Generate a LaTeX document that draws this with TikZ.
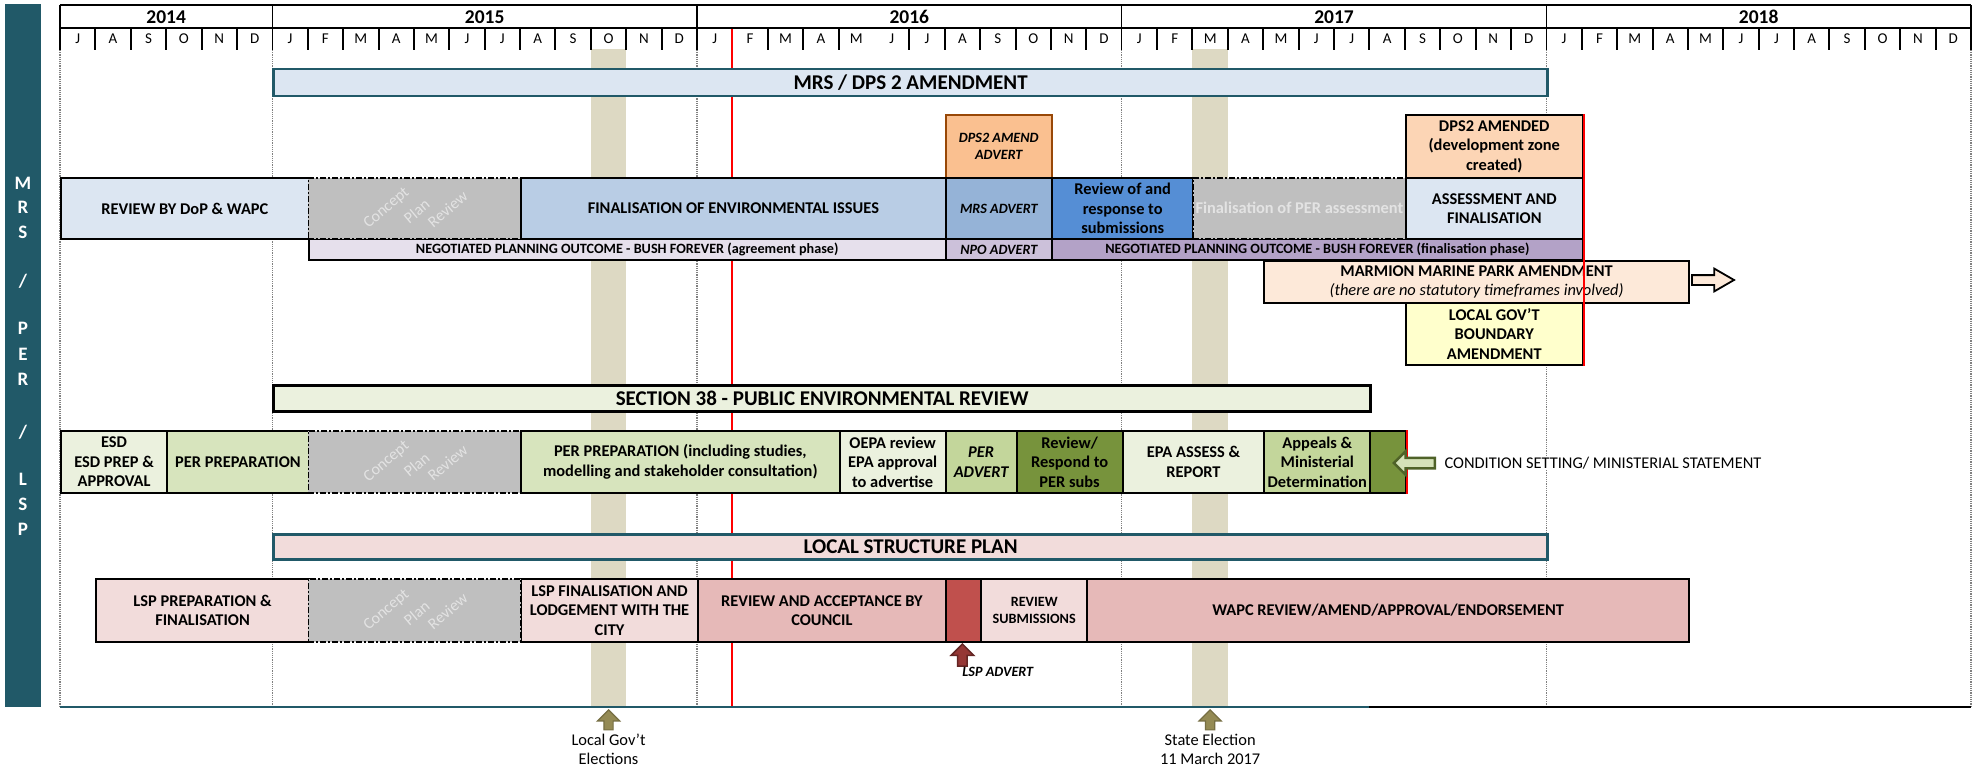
\documentclass[tikz,border=0pt]{standalone}
\usepackage{fontspec}
\setmainfont{Carlito}
\usetikzlibrary{positioning, shapes.arrows}

\definecolor{mrsteal}{HTML}{215968}
\definecolor{paleblue}{HTML}{DCE6F2}
\definecolor{midblue}{HTML}{B9CDE5}
\definecolor{advblue}{HTML}{95B3D7}
\definecolor{subblue}{HTML}{558ED5}
\definecolor{cpgray}{HTML}{BFBFBF}
\definecolor{faint}{HTML}{E3E3E3}
\definecolor{advorange}{HTML}{FAC090}
\definecolor{advbrown}{HTML}{984807}
\definecolor{amdpeach}{HTML}{FCD5B5}
\definecolor{npolav}{HTML}{E6E0EC}
\definecolor{npoadvlav}{HTML}{CCC1DA}
\definecolor{npofinlav}{HTML}{B3A2C7}
\definecolor{marmpeach}{HTML}{FDE9D9}
\definecolor{lgyellow}{HTML}{FFFFCC}
\definecolor{pergreen}{HTML}{EBF1DE}
\definecolor{prepgreen}{HTML}{D7E4BD}
\definecolor{advgreen}{HTML}{C3D69B}
\definecolor{darkgreen}{HTML}{77933C}
\definecolor{olivegreen}{HTML}{4F6228}
\definecolor{lsppink}{HTML}{F2DCDB}
\definecolor{lsprose}{HTML}{E6B9B8}
\definecolor{lspred}{HTML}{C0504D}
\definecolor{lspmaroon}{HTML}{953735}
\definecolor{lspdark}{HTML}{632523}
\definecolor{elecbeige}{HTML}{DDD9C3}
\definecolor{eleckhaki}{HTML}{948A54}

\tikzset{span/.style n args={4}{at={(#1,#3)}, anchor=north west, minimum width={(#2-#1)*35.389pt}, minimum height={(#4-#3)*1pt}},
    task/.style={draw=black, line width=2pt, inner sep=0pt, align=center, font=\bfseries\fontsize{16.4}{19.5}\selectfont},
    advert/.style={task, font=\bfseries\itshape\fontsize{14.2}{17}\selectfont},
    npo/.style={task, font=\bfseries\fontsize{14.2}{17}\selectfont},
    phase/.style={line width=2.5pt, inner sep=0pt, font=\bfseries\fontsize{21}{25}\selectfont},
    concept/.style={fill=cpgray, draw=black, line width=1.5pt, dash pattern=on 6pt off 2pt on 2pt off 2pt, inner sep=0pt},
    concept word/.style={text=faint, rotate=40, font=\fontsize{16}{19}\selectfont},
    grid line/.style={draw=gray, densely dotted, line width=1.2pt},
    year line/.style={line width=1.5pt},
    tick/.style={line width=2pt},
    year/.style={font=\bfseries\fontsize{19.5}{23}\selectfont},
    month/.style={font=\fontsize{15}{18}\selectfont},
    side/.style={text=white, font=\bfseries\fontsize{19}{22}\selectfont},
    note/.style={align=center, font=\fontsize{16.4}{19}\selectfont},
    blockarrow/.style={single arrow, inner sep=4pt, single arrow head extend=6.5pt},
}

\begin{document}
\begin{tikzpicture}[x=35.389pt, y=-1pt]
    \useasboundingbox (-1.6954,0) rectangle (54.0274,767);
    \fill[white] (-1.6954,0) rectangle (54.0274,767);

    \fill[elecbeige] (15,49) rectangle (16,707);
    \fill[elecbeige] (32,49) rectangle (33,707);
    \foreach \t in {0,6,18,30,42,54}
        \draw[grid line] (\t,50) -- (\t,707);
    \draw[red, line width=2pt] (19,29) -- (19,707);

    \draw[line width=1.5pt] (0,5) -- (54,5) (0,28) -- (54,28);
    \foreach \t in {0,6,18,30,42,54}
        \draw[year line] (\t,5) -- (\t,50);
    \foreach \t in {1,2,3,4,5,7,8,9,10,11,12,13,14,15,16,17,20,21,22,24,25,26,27,28,29,31,32,33,34,35,36,37,38,39,40,41,43,44,45,46,47,48,49,50,51,52,53}
        \draw[tick] (\t,29) -- (\t,50);
    \node[year] (y2014) at (3,17) {2014};
    \node[year] (y2015) at (12,17) {2015};
    \node[year] (y2016) at (24,17) {2016};
    \node[year] (y2017) at (36,17) {2017};
    \node[year] (y2018) at (48,17) {2018};
    \foreach \m [count=\i from 0] in {J,A,S,O,N,D,J,F,M,A,M,J,J,A,S,O,N,D,J,F,M,A,M,J,J,A,S,O,N,D,J,F,M,A,M,J,J,A,S,O,N,D,J,F,M,A,M,J,J,A,S,O,N,D}
        \node[month] (m\i) at (\i+0.5,39) {\m};

    \node[phase, draw=mrsteal, fill=paleblue, span={6}{42}{68}{95}] (mrs) {MRS / DPS 2 AMENDMENT};

    \node[advert, draw=advbrown, fill=advorange, span={25}{28}{114}{177}] (dpsadv) {DPS2 AMEND\\ADVERT};
    \node[task, fill=amdpeach, span={38}{43}{114}{177}] (dpsamd) {DPS2 AMENDED\\(development zone\\created)};

    \node[npo, fill=npolav, span={7}{25}{238}{259}] (npoagr) {NEGOTIATED PLANNING OUTCOME - BUSH FOREVER (agreement phase)};
    \node[advert, fill=npoadvlav, span={25}{28}{238}{259}] (npoadv) {NPO ADVERT};
    \node[npo, fill=npofinlav, span={28}{43}{238}{259}] (npofin) {NEGOTIATED PLANNING OUTCOME - BUSH FOREVER (finalisation phase)};

    \node[task, fill=paleblue, span={0}{7}{177}{238}] (dop) {REVIEW BY DoP \& WAPC};
    \node[concept, span={7}{13}{177}{238}] (cpr1) {};
    \node[task, fill=midblue, span={13}{25}{177}{238}] (finenv) {FINALISATION OF ENVIRONMENTAL ISSUES};
    \node[advert, fill=advblue, span={25}{28}{177}{238}] (mrsadv) {MRS ADVERT};
    \node[task, fill=subblue, span={28}{32}{177}{238}] (subs) {Review of and\\response to\\submissions};
    \node[concept, text=faint, align=center, font=\bfseries\fontsize{16.4}{19.5}\selectfont, span={32}{38}{177}{238}] (finper) {Finalisation of PER assessment};
    \node[task, fill=paleblue, span={38}{43}{177}{238}] (assess) {ASSESSMENT AND\\FINALISATION};

    \node[task, fill=marmpeach, span={34}{46}{260}{302}] (marmion) {MARMION MARINE PARK AMENDMENT\\\mdseries\itshape (there are no statutory timeframes involved)};
    \node[task, fill=lgyellow, span={38}{43}{302}{364}] (lgb) {LOCAL GOV'T\\BOUNDARY\\AMENDMENT};
    \draw[red, line width=2pt] (dpsamd.north east) -- (lgb.south east);
    \node[blockarrow, draw=black, fill=marmpeach, line width=1.8pt, minimum height=42pt, single arrow tip angle=60, anchor=tail] (marmarrow) at (46.09,280) {};

    \node[phase, draw=black, fill=pergreen, span={6}{37}{384}{410}] (sect38) {SECTION 38 - PUBLIC ENVIRONMENTAL REVIEW};

    \node[task, fill=pergreen, span={0}{3}{430}{492}] (esd) {ESD\\ESD PREP \&\\APPROVAL};
    \node[task, fill=prepgreen, span={3}{7}{430}{492}] (perprep) {PER PREPARATION};
    \node[concept, span={7}{13}{430}{492}] (cpr2) {};
    \node[task, fill=prepgreen, span={13}{22}{430}{492}] (perstudy) {PER PREPARATION (including studies,\\modelling and stakeholder consultation)};
    \node[task, fill=pergreen, span={22}{25}{430}{492}] (oepa) {OEPA review\\EPA approval\\to advertise};
    \node[task, fill=advgreen, font=\bfseries\itshape\fontsize{16.4}{19.5}\selectfont, span={25}{27}{430}{492}] (peradv) {PER\\ADVERT};
    \node[task, fill=darkgreen, span={27}{30}{430}{492}] (perresp) {Review/\\Respond to\\PER subs};
    \node[task, fill=pergreen, span={30}{34}{430}{492}] (epa) {EPA ASSESS \&\\REPORT};
    \node[task, fill=advgreen, span={34}{37}{430}{492}] (appeals) {Appeals \&\\Ministerial\\Determination};
    \node[task, fill=darkgreen, span={37}{38}{430}{492}] (condset) {};
    \draw[red, line width=2.5pt] (condset.north east) -- (condset.south east);
    \node[blockarrow, draw=olivegreen, fill=advgreen!70!white, line width=2.5pt, minimum height=41pt, rotate=180, anchor=tip] (condarrow) at (37.64,463) {};
    \node[note, fill=white, inner sep=1pt, anchor=west] (condtext) at (39.09,463) {CONDITION SETTING/ MINISTERIAL STATEMENT};

    \node[phase, draw=mrsteal, fill=lsppink, span={6}{42}{533}{558}] (lsp) {LOCAL STRUCTURE PLAN};

    \node[task, fill=lsppink, span={1}{7}{578}{641}] (lspprep) {LSP PREPARATION \&\\FINALISATION};
    \node[task, fill=lsppink, span={13}{18}{578}{641}] (lspfin) {LSP FINALISATION AND\\LODGEMENT WITH THE\\CITY};
    \node[concept, span={7}{13}{578}{641}] (cpr3) {};
    \node[task, fill=lsprose, span={18}{25}{578}{641}] (council) {REVIEW AND ACCEPTANCE BY\\COUNCIL};
    \node[task, fill=lspred, span={25}{26}{578}{641}] (lspadv) {};
    \node[task, fill=lsppink, font=\bfseries\fontsize{14.2}{17}\selectfont, span={26}{29}{578}{641}] (revsubs) {REVIEW\\SUBMISSIONS};
    \node[task, fill=lsprose, span={29}{46}{578}{641}] (wapc) {WAPC REVIEW/AMEND/APPROVAL/ENDORSEMENT};

    \foreach \c in {cpr1,cpr2,cpr3} {
        \node[concept word] (\c-a) at ([xshift=-28pt]\c.center) {Concept};
        \node[concept word] (\c-b) at ([xshift=2pt, yshift=-3pt]\c.center) {Plan};
        \node[concept word] (\c-c) at ([xshift=33pt, yshift=-1pt]\c.center) {Review};
    }

    \node[blockarrow, draw=lspdark, fill=lspmaroon, line width=1.5pt, minimum height=22pt, rotate=90, anchor=tip] (lsparrow) at (25.5,643) {};
    \node[font=\bfseries\itshape\fontsize{14.2}{17}\selectfont] (lspadvtext) at (26.5,672) {LSP ADVERT};

    \draw[mrsteal, line width=2pt] (0,707) -- (37,707);
    \draw[line width=2pt] (37,707) -- (54,707);

    \node[blockarrow, draw=eleckhaki!80!black, fill=eleckhaki, line width=1.2pt, minimum height=20pt, rotate=90, anchor=tip] (lgearrow) at (15.5,709) {};
    \node[note] (lgetext) at (15.5,749) {Local Gov't\\Elections};
    \node[blockarrow, draw=eleckhaki!80!black, fill=eleckhaki, line width=1.2pt, minimum height=20pt, rotate=90, anchor=tip] (searrow) at (32.5,709) {};
    \node[note] (setext) at (32.5,749) {State Election\\11 March 2017};

    \fill[mrsteal] (-1.554,4) rectangle (-0.537,707);
    \foreach \l/\y [count=\i] in {M/183,R/207,S/232,P/328,E/354,R/379,L/479,S/504,P/529}
        \node[side] (side\i) at (-1.046,\y) {\l};
    \node[side] (slash1) at (-1.046,281) {/};
    \node[side] (slash2) at (-1.046,432) {/};
\end{tikzpicture}
\end{document}
